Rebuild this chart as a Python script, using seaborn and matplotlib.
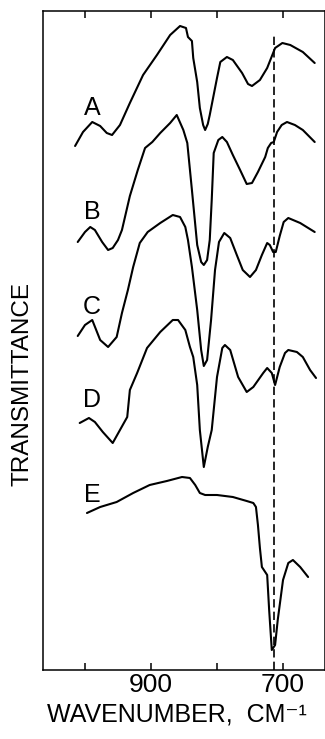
import numpy as np
import pandas as pd
import matplotlib
matplotlib.use("Agg")
import matplotlib.pyplot as plt
import seaborn as sns

# ---- data: wavenumber (cm^-1) and transmittance (arbitrary, offset traces) ----
wn_A = [1015, 1003, 989, 977, 967, 959, 947, 932, 912, 891, 871, 856, 847, 844, 838,
        836, 830, 826, 821, 818, 814, 811, 800, 795, 785, 776, 762, 753, 747, 735,
        724, 712, 701, 689, 670, 652]
t_A = [524, 538, 548, 544, 537, 535, 545, 567, 595, 615, 635, 644, 642, 633, 629,
       612, 588, 562, 545, 540, 546, 555, 592, 608, 613, 610, 597, 586, 584, 590,
       602, 622, 627, 625, 618, 607]

wn_B = [1011, 1000, 992, 985, 974, 965, 958, 950, 944, 932, 920, 909, 898, 886, 871,
        861, 851, 845, 838, 830, 824, 820, 815, 811, 808, 805, 798, 792, 785, 776,
        765, 755, 747, 738, 727, 723, 718, 714, 709, 702, 694, 682, 670, 652]
t_B = [428, 438, 443, 440, 428, 420, 422, 430, 440, 474, 500, 522, 528, 537, 547,
       555, 540, 527, 480, 425, 408, 405, 410, 430, 470, 517, 530, 533, 528, 515,
       500, 486, 487, 498, 513, 522, 527, 528, 538, 545, 548, 545, 540, 528]

wn_C = [1011, 1000, 989, 977, 965, 952, 944, 935, 927, 917, 905, 886, 867, 856, 848,
        844, 838, 830, 824, 820, 815, 809, 803, 797, 789, 780, 770, 761, 750, 741,
        732, 724, 720, 715, 711, 705, 699, 692, 674, 652]
t_C = [334, 345, 350, 330, 323, 333, 357, 380, 403, 427, 438, 447, 455, 453, 443,
       430, 403, 360, 320, 304, 310, 350, 400, 428, 437, 432, 415, 400, 393, 400,
       415, 427, 425, 418, 418, 434, 448, 452, 447, 438]

wn_D = [1008, 994, 985, 973, 958, 947, 936, 932, 921, 906, 886, 867, 859, 848, 841,
        836, 830, 826, 820, 814, 808, 800, 792, 788, 780, 768, 755, 745, 730, 724,
        717, 712, 705, 697, 692, 679, 670, 659, 650]
t_D = [247, 252, 248, 238, 227, 240, 253, 280, 297, 322, 338, 350, 350, 340, 323,
       313, 285, 240, 203, 223, 240, 293, 322, 325, 320, 293, 278, 283, 297, 302,
       297, 285, 303, 317, 320, 318, 313, 300, 292]

wn_E = [997, 977, 952, 927, 902, 876, 853, 841, 833, 826, 818, 800, 776, 755, 745,
        741, 738, 735, 732, 729, 724, 721, 717, 712, 708, 700, 692, 685, 674, 662]
t_E = [157, 163, 168, 177, 185, 189, 193, 192, 185, 177, 175, 175, 173, 169, 167,
       163, 145, 122, 103, 100, 95, 60, 20, 25, 50, 90, 107, 110, 103, 93]

labels = ["A", "B", "C", "D", "E"]
label_wn = [989, 989, 989, 989, 989]
label_t = [562, 458, 363, 270, 175]

ref_line_wn = 714
ref_line_top = 637

xticks = [1000, 900, 800, 700]
xticklabels = ["", "900", "", "700"]

# ---- build long-form table ----
series = {"A": (wn_A, t_A), "B": (wn_B, t_B), "C": (wn_C, t_C),
          "D": (wn_D, t_D), "E": (wn_E, t_E)}
frames = []
for name, (w, t) in series.items():
    frames.append(pd.DataFrame({"wavenumber": w, "T": t, "trace": name}))
df = pd.concat(frames, ignore_index=True)

sns.set_style("ticks")
plt.rcParams["font.family"] = ["Liberation Sans", "DejaVu Sans"]
plt.rcParams["text.color"] = "black"
plt.rcParams["axes.labelcolor"] = "black"
plt.rcParams["xtick.color"] = "black"
plt.rcParams["ytick.color"] = "black"

fig = plt.figure(figsize=(3.25, 7.39), dpi=100)
ax = fig.add_axes([43/325, 1 - 670/739, 282/325, 659/739])

sns.lineplot(data=df, x="wavenumber", y="T", units="trace", estimator=None,
             color="black", linewidth=1.5, sort=False, ax=ax)

ax.vlines(ref_line_wn, 0, ref_line_top, colors="black", linewidth=1.2,
          linestyles=(0, (5, 2.5)))

for lab, x, y in zip(labels, label_wn, label_t):
    ax.text(x, y, lab, fontsize=18, ha="center", va="center", color="black")

ax.set_xlim(1063.6, 636.4)
ax.set_ylim(0, 659)
ax.set_xticks(xticks)
ax.set_xticklabels(xticklabels, fontsize=19, color="black")
ax.set_yticks([])
ax.tick_params(axis="x", direction="in", length=5, width=1.1, top=True,
               bottom=True, pad=2, colors="black")
for s in ax.spines.values():
    s.set_visible(True)
    s.set_linewidth(1.1)
    s.set_color("black")

ax.set_xlabel("WAVENUMBER,  CM\u207b\u00b9", fontsize=18, color="black")
ax.xaxis.set_label_coords(0.475, -0.05)
ax.set_ylabel("")
ax.text(-0.071, 0.434, "TRANSMITTANCE", transform=ax.transAxes, rotation=90,
        fontsize=17.5, ha="center", va="center", color="black")

fig.savefig("out.png", dpi=100)
